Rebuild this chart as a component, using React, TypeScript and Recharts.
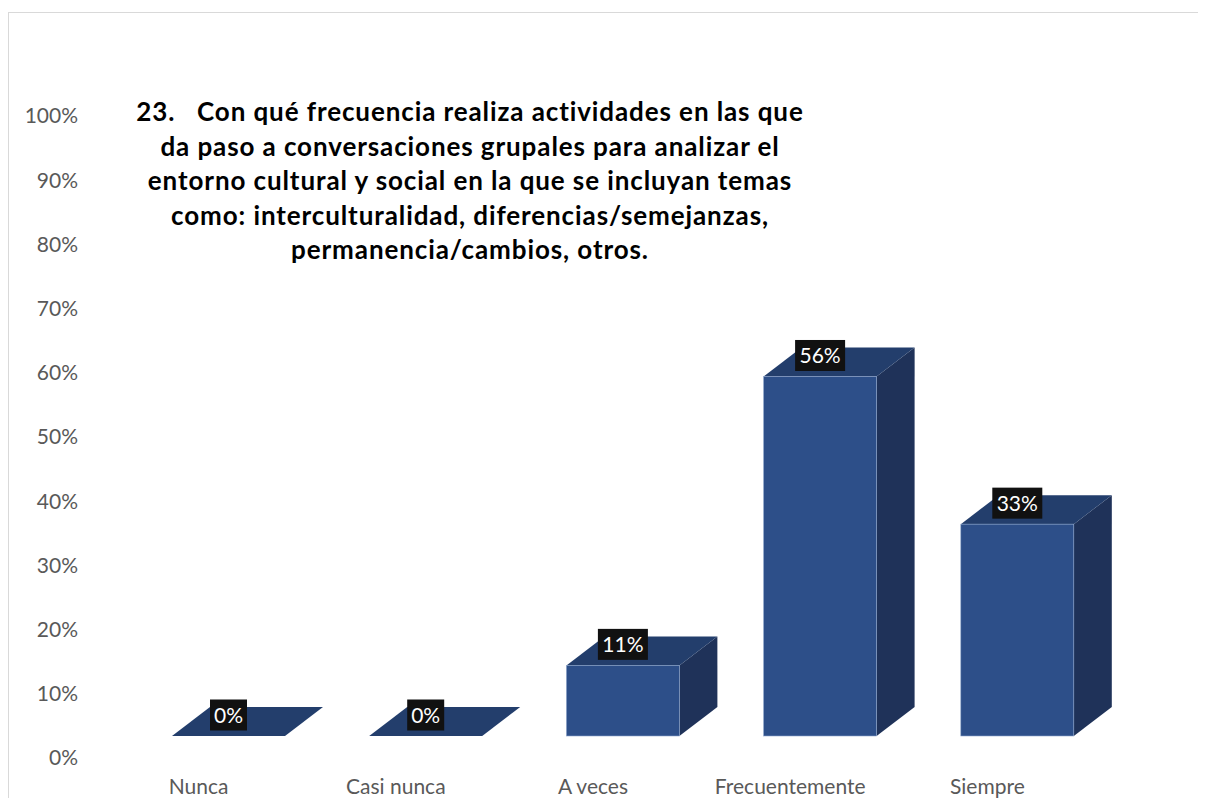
import React from 'react';
import { BarChart, Bar, XAxis, YAxis, LabelList } from 'recharts';

const categories = ['Nunca', 'Casi nunca', 'A veces', 'Frecuentemente', 'Siempre'];
const values = [0, 0, 0.11, 0.56, 0.33];
const valueLabels = ['0%', '0%', '11%', '56%', '33%'];
const yTicks = [0, 0.1, 0.2, 0.3, 0.4, 0.5, 0.6, 0.7, 0.8, 0.9, 1];
const titleLines = [
    '23.   Con qué frecuencia realiza actividades en las que',
    'da paso a conversaciones grupales para analizar el',
    'entorno cultural y social en la que se incluyan temas',
    'como: interculturalidad, diferencias/semejanzas,',
    'permanencia/cambios, otros.'
];

const data = categories.map((name, i) => ({ name, value: values[i], label: valueLabels[i] }));

const FONT = 'Lato, "Open Sans", sans-serif';
// 3D look: front face is pushed right and up, depth goes up-right
const SHIFT_X = 30;
const LIFT = 22;
const DX = 38;
const DY = -29;

const Bar3D = (props: any) => {
    const { x, y, width, height } = props;
    const fx = x + SHIFT_X;
    const fy = y - LIFT;
    const fb = y + height - LIFT;
    const w = width;
    return (
        <g>
            <polygon
                points={`${fx + w},${fy} ${fx + w + DX},${fy + DY} ${fx + w + DX},${fb + DY} ${fx + w},${fb}`}
                fill="#1F3259"
            />
            <polygon
                points={`${fx},${fy} ${fx + DX},${fy + DY} ${fx + w + DX},${fy + DY} ${fx + w},${fy}`}
                fill="#233E6C"
            />
            {height > 0 && (
                <rect x={fx} y={fy} width={w} height={height} fill="#2D4F89" stroke="#8EA6CC" strokeWidth={0.6} />
            )}
        </g>
    );
};

const BoxLabel = (props: any) => {
    const { x, y, width, value } = props;
    const cx = x + SHIFT_X + width / 2;
    const cy = y - LIFT - 21;
    const bw = String(value).length > 2 ? 50 : 37;
    const bh = 31;
    return (
        <g>
            <rect x={cx - bw / 2} y={cy - bh / 2} width={bw} height={bh} fill="#111111" />
            <text x={cx} y={cy} dy="0.36em" textAnchor="middle" fill="#ffffff" fontSize={21} fontFamily={FONT}>
                {value}
            </text>
        </g>
    );
};

const App: React.FC = () => {
    return (
        <div style={{ position: 'relative', width: 1198, height: 790, background: '#fff' }}>
            <div
                style={{
                    position: 'absolute',
                    left: 0,
                    top: 4,
                    width: 1198,
                    height: 786,
                    borderTop: '1px solid #D9D9D9',
                    borderLeft: '1px solid #D9D9D9',
                    boxSizing: 'border-box'
                }}
            />
            <div style={{ position: 'absolute', left: 0, top: 0 }}>
                <BarChart
                    width={1198}
                    height={790}
                    data={data}
                    margin={{ top: 108, right: 120, bottom: 0, left: 0 }}
                >
                    <XAxis
                        dataKey="name"
                        axisLine={false}
                        tickLine={false}
                        tickSize={0}
                        tickMargin={21}
                        height={40}
                        interval={0}
                        tick={{ fill: '#595959', fontSize: 21, fontFamily: FONT }}
                    />
                    <YAxis
                        domain={[0, 1]}
                        ticks={yTicks}
                        tickFormatter={(v: number) => `${Math.round(v * 100)}%`}
                        axisLine={false}
                        tickLine={false}
                        tickSize={0}
                        tickMargin={22}
                        width={92}
                        tick={{ fill: '#595959', fontSize: 21, fontFamily: FONT }}
                    />
                    <Bar dataKey="value" barSize={113} shape={<Bar3D />} isAnimationActive={false}>
                        <LabelList dataKey="label" content={<BoxLabel />} />
                    </Bar>
                </BarChart>
            </div>
            <svg style={{ position: 'absolute', left: 0, top: 0 }} width={1198} height={300}>
                {titleLines.map((line, i) => (
                    <text
                        key={i}
                        x={462}
                        y={104 + i * 34.5}
                        dy="0.36em"
                        textAnchor="middle"
                        fontSize={26}
                        fontWeight="bold"
                        letterSpacing={0.9}
                        fontFamily={FONT}
                        fill="#000000"
                        style={{ whiteSpace: 'pre' }}
                    >
                        {line}
                    </text>
                ))}
            </svg>
        </div>
    );
};

export default App;
